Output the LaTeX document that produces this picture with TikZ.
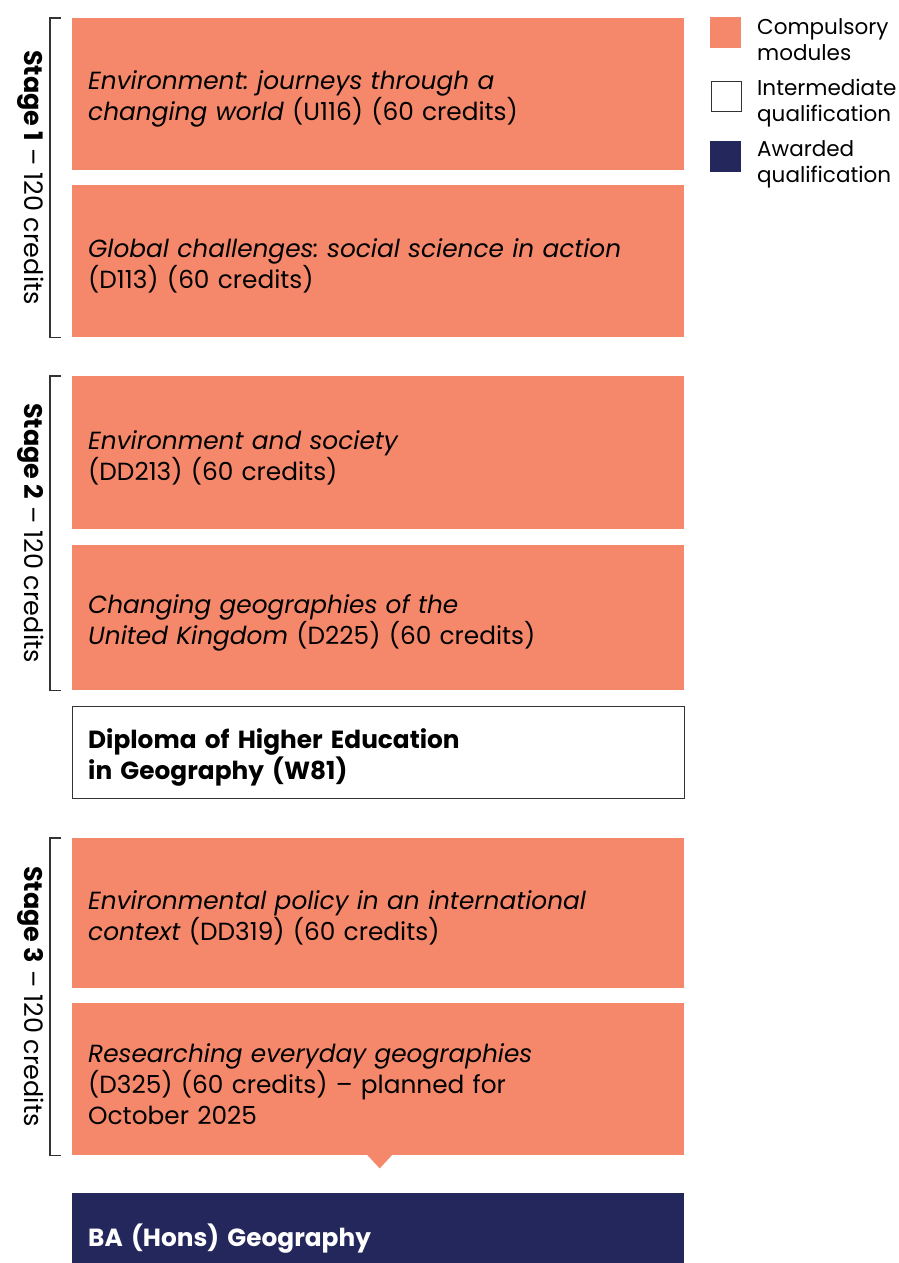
\documentclass[tikz,border=0pt]{standalone}
\usepackage{fontspec}
\setmainfont{Poppins}
\frenchspacing
\definecolor{salmon}{HTML}{F5886B}
\definecolor{navy}{HTML}{24275B}
\definecolor{edge}{HTML}{333333}
\begin{document}
\begin{tikzpicture}[x=1pt,y=-1pt,
  boxbase/.style={anchor=north west, minimum width=612pt, inner sep=0pt},
  modbox/.style={boxbase, fill=salmon, draw=none},
  qualbox/.style={boxbase, fill=white, draw=edge, line width=1.2pt},
  awardbox/.style={boxbase, fill=navy, draw=none},
  boxtext/.style={anchor=west, text width=580pt, inner sep=0pt, align=left, font=\fontsize{24.8}{31}\selectfont},
  bracket/.style={draw=edge, line width=1.2pt},
  stagelabel/.style={rotate=-90, font=\fontsize{25.5}{30}\selectfont, inner sep=0pt},
  legsq/.style={anchor=north west, minimum width=31pt, minimum height=31pt, inner sep=0pt},
  legtext/.style={anchor=north west, align=left, inner sep=0pt, font=\fontsize{21.5}{26}\selectfont}
]
\clip (0,0) rectangle (898,1263);
\fill[white] (0,0) rectangle (898,1263);

% boxes
\node[modbox, minimum height=152pt] (m1) at (72,18) {};
\node[modbox, minimum height=152pt] (m2) at (72,185) {};
\node[modbox, minimum height=153pt] (m3) at (72,376) {};
\node[modbox, minimum height=145pt] (m4) at (72,545) {};
\node[qualbox, minimum height=92pt] (dip) at (72,706) {};
\node[modbox, minimum height=150pt] (m5) at (72,838) {};
\node[modbox, minimum height=152pt] (m6) at (72,1003) {};
\node[awardbox, minimum height=88pt] (ba) at (72,1193) {};

% box texts
\node[boxtext] (m1t) at ([xshift=16pt,yshift=-5pt]m1.west) {\textit{Environment: journeys through a}\\\textit{changing world} (U116) (60 credits)};
\node[boxtext] (m2t) at ([xshift=16pt,yshift=-5pt]m2.west) {\textit{Global challenges: social science in action}\\(D113) (60 credits)};
\node[boxtext] (m3t) at ([xshift=16pt,yshift=-5pt]m3.west) {\textit{Environment and society}\\(DD213) (60 credits)};
\node[boxtext] (m4t) at ([xshift=16pt,yshift=-5pt]m4.west) {\textit{Changing geographies of the}\\\textit{United Kingdom} (D225) (60 credits)};
\node[boxtext, font=\fontsize{24.8}{31}\selectfont\bfseries] (dipt) at ([xshift=16pt,yshift=-5pt]dip.west) {Diploma of Higher Education\\in Geography (W81)};
\node[boxtext] (m5t) at ([xshift=16pt,yshift=-5pt]m5.west) {\textit{Environmental policy in an international}\\\textit{context} (DD319) (60 credits)};
\node[boxtext] (m6t) at ([xshift=16pt,yshift=-5pt]m6.west) {\textit{Researching everyday geographies}\\(D325) (60 credits) – planned for\\October 2025};
\node[boxtext, text=white, font=\fontsize{24.8}{31}\selectfont\bfseries] (bat) at ([xshift=16pt,yshift=-1pt]ba.west) {BA (Hons) Geography};

% pointer triangle
\coordinate (pt) at ([xshift=1.5pt]m6.south);
\fill[salmon] ([xshift=-12.5pt,yshift=0.5pt]pt) -- ([yshift=-13pt]pt) -- ([xshift=12.5pt,yshift=0.5pt]pt) -- cycle;

% brackets
\draw[bracket] ([xshift=-11pt]m1.north west) -- ([xshift=-22pt]m1.north west) -- ([xshift=-22pt]m2.south west) -- ([xshift=-11pt]m2.south west);
\draw[bracket] ([xshift=-11pt]m3.north west) -- ([xshift=-22pt]m3.north west) -- ([xshift=-22pt]m4.south west) -- ([xshift=-11pt]m4.south west);
\draw[bracket] ([xshift=-11pt]m5.north west) -- ([xshift=-22pt]m5.north west) -- ([xshift=-22pt]m6.south west) -- ([xshift=-11pt]m6.south west);

% stage labels
\node[stagelabel] (s1) at (31,177.5) {\textbf{Stage 1} – 120 credits};
\node[stagelabel] (s2) at (31,533) {\textbf{Stage 2} – 120 credits};
\node[stagelabel] (s3) at (31,996.5) {\textbf{Stage 3} – 120 credits};

% legend
\node[legsq, fill=salmon] (l1) at (710,17) {};
\node[legsq, fill=white, draw=edge, line width=1.2pt, minimum width=30pt, minimum height=30pt] (l2) at (711,81) {};
\node[legsq, fill=navy] (l3) at (710,141) {};
\node[legtext] (t1) at (757,18) {Compulsory\\modules};
\node[legtext] (t2) at (757,79) {Intermediate\\qualification};
\node[legtext] (t3) at (757,140) {Awarded\\qualification};
\end{tikzpicture}
\end{document}
